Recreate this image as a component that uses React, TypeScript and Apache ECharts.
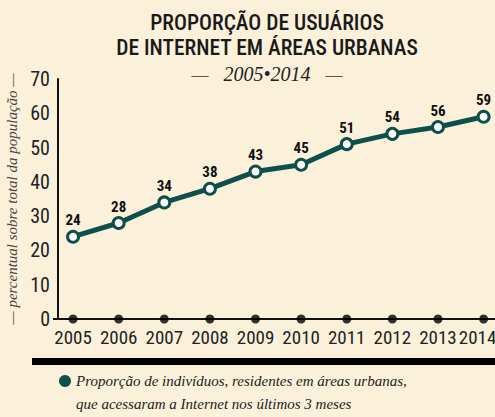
import React, { useEffect, useRef } from "react";
import * as echarts from "echarts";

const years = [2005, 2006, 2007, 2008, 2009, 2010, 2011, 2012, 2013, 2014];
const values = [24, 28, 34, 38, 43, 45, 51, 54, 56, 59];
const yTicks = [0, 10, 20, 30, 40, 50, 60, 70];
const titleLines = ["PROPORÇÃO DE USUÁRIOS", "DE INTERNET EM ÁREAS URBANAS"];
const subtitleDash = "—";
const subtitleYears = "2005•2014";
const yAxisTitle = "— percentual sobre total da população —";
const legendLines = [
  "Proporção de indivíduos, residentes em áreas urbanas,",
  "que acessaram a Internet nos últimos 3 meses",
];

const BG = "#FBF1DA";
const TEAL = "#0E4F4B";
const COND = "'Roboto Condensed', 'DejaVu Sans Condensed', sans-serif";
const SERIF = "'Liberation Serif', 'DejaVu Serif', serif";
const lastYear = years[years.length - 1];

export default function App() {
  const ref = useRef<HTMLDivElement>(null);
  useEffect(() => {
    const chart = echarts.init(ref.current!, null, { renderer: "svg" });
    chart.setOption({
      animation: false,
      backgroundColor: BG,
      grid: { left: 58, right: 0, top: 79, bottom: 98, outerBoundsMode: "none" },
      xAxis: {
        type: "value",
        min: 2004.67,
        max: 2014.25,
        axisLine: { show: true, lineStyle: { color: "#111", width: 2 } },
        axisTick: { show: false },
        splitLine: { show: false },
        axisLabel: {
          customValues: years,
          formatter: (v: number) => (v === lastYear ? `{last|${v}}` : String(v)),
          fontFamily: COND,
          fontSize: 19,
          color: "#222",
          margin: 9,
          rich: {
            last: {
              fontFamily: COND,
              fontSize: 19,
              color: "#222",
              padding: [0, 12, 0, 0],
            },
          },
        },
      },
      yAxis: {
        type: "value",
        min: 0,
        max: 70,
        interval: 10,
        axisLine: { show: true, lineStyle: { color: "#111", width: 2 } },
        axisTick: {
          show: true,
          customValues: [0],
          length: 5,
          lineStyle: { color: "#111", width: 2 },
        },
        splitLine: { show: false },
        axisLabel: {
          customValues: yTicks,
          fontFamily: COND,
          fontSize: 20,
          color: "#222",
          margin: 8,
        },
        name: yAxisTitle,
        nameLocation: "middle",
        nameRotate: 90,
        nameGap: 36,
        nameTextStyle: {
          fontFamily: SERIF,
          fontStyle: "italic",
          fontSize: 15,
          color: "#444",
        },
      },
      series: [
        {
          type: "scatter",
          data: years.map((y) => [y, 0]),
          symbol: "circle",
          symbolSize: 9,
          itemStyle: { color: "#000" },
          z: 3,
        },
        {
          type: "line",
          data: years.map((y, i) => [y, values[i]]),
          lineStyle: { color: TEAL, width: 5 },
          symbol: "circle",
          symbolSize: 11,
          itemStyle: { color: "#fff", borderColor: TEAL, borderWidth: 3 },
          label: {
            show: true,
            position: "top",
            distance: 2,
            fontFamily: COND,
            fontWeight: "bold",
            fontSize: 15,
            color: "#111",
          },
          z: 4,
        },
      ],
      graphic: [
        {
          type: "text",
          x: 267,
          y: 22,
          style: {
            text: titleLines[0],
            font: `500 21.5px ${COND}`,
            fill: "#1a1a1a",
            align: "center",
            verticalAlign: "middle",
          },
        },
        {
          type: "text",
          x: 267,
          y: 47,
          style: {
            text: titleLines[1],
            font: `500 21.5px ${COND}`,
            fill: "#1a1a1a",
            align: "center",
            verticalAlign: "middle",
          },
        },
        {
          type: "text",
          x: 267,
          y: 74,
          style: {
            text: `{d|${subtitleDash}}   {n|${subtitleYears}}   {d|${subtitleDash}}`,
            font: `italic 20px ${SERIF}`,
            fill: "#222",
            align: "center",
            verticalAlign: "middle",
            rich: {
              d: { fontFamily: SERIF, fontSize: 17, fill: "#555" },
              n: { fontFamily: SERIF, fontStyle: "italic", fontSize: 20, fill: "#222" },
            },
          },
        },
        {
          type: "rect",
          shape: { x: 32, y: 358, width: 463, height: 7 },
          style: { fill: "#000" },
        },
        {
          type: "circle",
          shape: { cx: 65, cy: 381, r: 6 },
          style: { fill: TEAL },
        },
        {
          type: "text",
          x: 76,
          y: 381,
          style: {
            text: legendLines[0],
            font: `italic 15px ${SERIF}`,
            fill: "#222",
            verticalAlign: "middle",
          },
        },
        {
          type: "text",
          x: 76,
          y: 404,
          style: {
            text: legendLines[1],
            font: `italic 15px ${SERIF}`,
            fill: "#222",
            verticalAlign: "middle",
          },
        },
      ],
    });
    return () => chart.dispose();
  }, []);
  return (
    <div
      ref={ref}
      style={{ position: "fixed", left: 0, top: 0, width: 495, height: 417 }}
    />
  );
}
